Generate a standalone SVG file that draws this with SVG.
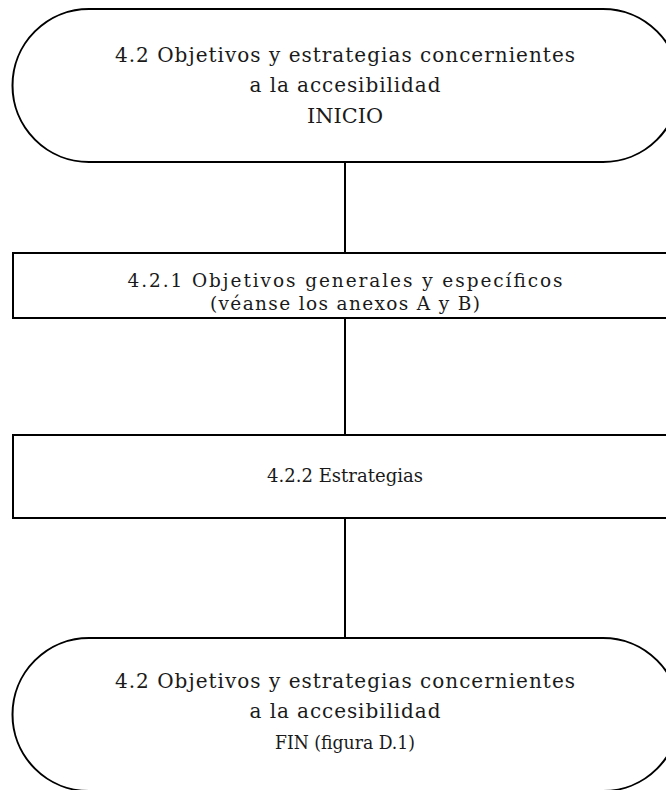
<svg xmlns="http://www.w3.org/2000/svg" width="666" height="790" viewBox="0 0 666 790">
  <style>
    .shape { fill: #ffffff; stroke: #000000; stroke-width: 2; }
    .link { stroke: #000000; stroke-width: 2; fill: none; }
    .label { font-family: "DejaVu Serif", "Liberation Serif", serif; font-size: 20px; fill: #1a1a1a; text-anchor: middle; }
    .small { font-size: 18.5px; }
  </style>
  <rect width="666" height="790" fill="#ffffff"/>

  <g id="connectors">
    <line class="link" x1="345" y1="163" x2="345" y2="253"/>
    <line class="link" x1="345" y1="318" x2="345" y2="435"/>
    <line class="link" x1="345" y1="518" x2="345" y2="638"/>
  </g>

  <g id="start">
    <path class="shape" d="M89,9 H603 A76.5,76.5 0 0 1 603,162 H89 A76.5,76.5 0 0 1 89,9 Z"/>
    <text class="label" x="345" y="62" textLength="460" lengthAdjust="spacing">4.2 Objetivos y estrategias concernientes</text>
    <text class="label" x="345" y="92" textLength="191" lengthAdjust="spacing">a la accesibilidad</text>
    <text class="label" x="345" y="123" textLength="76" lengthAdjust="spacingAndGlyphs">INICIO</text>
  </g>

  <g id="objectives">
    <rect class="shape" x="13" y="253" width="670" height="65"/>
    <text class="label small" x="345" y="287" textLength="435" lengthAdjust="spacing">4.2.1 Objetivos generales y específicos</text>
    <text class="label small" x="345" y="310" textLength="270" lengthAdjust="spacing">(véanse los anexos A y B)</text>
  </g>

  <g id="strategies">
    <rect class="shape" x="13" y="435" width="670" height="83"/>
    <text class="label small" x="345" y="482" textLength="156" lengthAdjust="spacingAndGlyphs">4.2.2 Estrategias</text>
  </g>

  <g id="end">
    <path class="shape" d="M89,638 H603 A76.5,76.5 0 0 1 603,791 H89 A76.5,76.5 0 0 1 89,638 Z"/>
    <text class="label" x="345" y="688" textLength="460" lengthAdjust="spacing">4.2 Objetivos y estrategias concernientes</text>
    <text class="label" x="345" y="718" textLength="191" lengthAdjust="spacing">a la accesibilidad</text>
    <text class="label small" x="345" y="749" textLength="140" lengthAdjust="spacingAndGlyphs">FIN (figura D.1)</text>
  </g>
</svg>
